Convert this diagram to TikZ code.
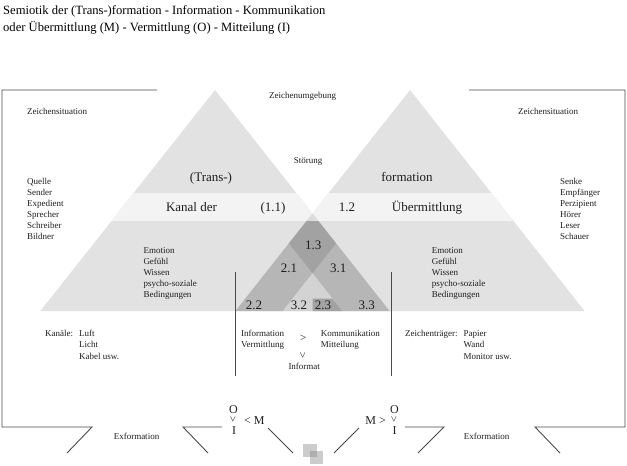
\documentclass[tikz,border=0pt]{standalone}
\usepackage{fontspec}
\setmainfont{Liberation Serif}
\definecolor{tri}{HTML}{E2E2E2}
\definecolor{bandc}{HTML}{F3F3F3}
\definecolor{tipc}{HTML}{DCDCDC}
\definecolor{darkc}{HTML}{A2A2A2}
\definecolor{midc}{HTML}{B6B6B6}
\definecolor{litec}{HTML}{D3D3D3}
\definecolor{lnc}{HTML}{4A4A4A}
\definecolor{txc}{HTML}{1E1E1E}
\tikzset{
  smalltxt/.style={font=\fontsize{9}{11}\selectfont, inner sep=0pt, text=txc},
  bigtxt/.style={font=\fontsize{13}{15}\selectfont, inner sep=0pt, text=txc},
  symtxt/.style={font=\fontsize{12}{14}\selectfont, inner sep=0pt, text=txc},
  reltxt/.style={font=\fontsize{11}{13}\selectfont, inner sep=0pt, text=txc},
  titletxt/.style={font=\fontsize{12.6}{15}\selectfont, inner sep=0pt, text=black},
  frameline/.style={draw=lnc, line width=0.9pt},
}
\begin{document}
\begin{tikzpicture}[x=1pt,y=-1pt]
\useasboundingbox (0,0) rectangle (627,466);
% triangle corners
\coordinate (LA) at (215,90);
\coordinate (LL) at (40.4,311);
\coordinate (LR) at (389.6,311);
\coordinate (RA) at (410,90);
\coordinate (RL) at (235.4,311);
\coordinate (RR) at (584.6,311);
% overlap partition
\coordinate (A) at (312.5,213.4);
\coordinate (L) at (288.8,243.4);
\coordinate (R) at (336.2,243.4);
\coordinate (D) at (312.5,273.4);
\coordinate (F) at (282.8,311);
\coordinate (E) at (342.2,311);
\coordinate (G1) at (312.5,298.7);
\coordinate (G2) at (332.5,298.7);
\coordinate (G3) at (312.5,311);
% fills
\fill[tri] (LA)--(LL)--(LR)--cycle;
\fill[tri] (RA)--(RL)--(RR)--cycle;
\fill[midc] (L)--(RL)--(F)--(D)--cycle;
\fill[midc] (R)--(D)--(E)--(LR)--cycle;
\fill[litec] (D)--(F)--(E)--cycle;
\fill[darkc] (A)--(L)--(D)--(R)--cycle;
\fill[darkc] (G1)--(G2)--(E)--(G3)--cycle;
\begin{scope}
  \clip (0,193.3) rectangle (627,220);
  \fill[bandc] (LA)--(LL)--(LR)--cycle (RA)--(RL)--(RR)--cycle;
  \fill[tipc] (A)--(L)--(D)--(R)--cycle;
\end{scope}
% frame
\coordinate (f1) at (157,90);
\coordinate (f2) at (2,90);
\coordinate (f3) at (2,427);
\coordinate (f4) at (92,427);
\coordinate (f5) at (67,453);
\coordinate (f6) at (183,427);
\coordinate (f7) at (208,453);
\coordinate (f8) at (222,427);
\coordinate (f9) at (268,428);
\coordinate (f10) at (293,453);
\coordinate (g9) at (359,428);
\coordinate (g10) at (334,453);
\coordinate (g8) at (405,427);
\coordinate (g6) at (444,427);
\coordinate (g7) at (418,453);
\coordinate (g4) at (535,427);
\coordinate (g5) at (560,453);
\coordinate (g3) at (625,427);
\coordinate (g2) at (625,90);
\coordinate (g1) at (469,90);
\draw[frameline] (f1)--(f2)--(f3)--(f4)--(f5);
\draw[frameline] (f7)--(f6)--(f8);
\draw[frameline] (f9)--(f10);
\draw[frameline] (g9)--(g10);
\draw[frameline] (g8)--(g6)--(g7);
\draw[frameline] (g5)--(g4)--(g3)--(g2)--(g1);
% vertical lines
\coordinate (v1t) at (235,272);
\coordinate (v1b) at (235,376);
\coordinate (v2t) at (391,272);
\coordinate (v2b) at (391,376);
\draw[frameline] (v1t)--(v1b);
\draw[frameline] (v2t)--(v2b);
% squares
\fill[gray, opacity=0.4] (303.3,444) rectangle (316.7,457.3);
\fill[gray, opacity=0.4] (310,450.7) rectangle (323.3,464);
% title
\node[titletxt, anchor=base west] (t1) at (3,14) {Semiotik der (Trans-)formation - Information - Kommunikation};
\node[titletxt, anchor=base west] (t2) at (3,31.7) {oder Übermittlung (M) - Vermittlung (O) - Mitteilung (I)};
% top labels
\node[smalltxt, anchor=base] (umg) at (302.5,98) {Zeichenumgebung};
\node[smalltxt, anchor=base west] (zsl) at (27,114) {Zeichensituation};
\node[smalltxt, anchor=base west] (zsr) at (518,114) {Zeichensituation};
\node[smalltxt, anchor=base] (stoer) at (308,163) {Störung};
\node[bigtxt, anchor=base] (trans) at (211,181.5) {(Trans-)};
\node[bigtxt, anchor=base] (form) at (407,181.5) {formation};
\node[bigtxt, anchor=base] (kanal) at (191.5,211) {Kanal der};
\node[bigtxt, anchor=base] (k11) at (273,211) {(1.1)};
\node[bigtxt, anchor=base] (k12) at (347,211) {1.2};
\node[bigtxt, anchor=base] (ueber) at (427,211) {Übermittlung};
% lists
\foreach [count=\i] \t in {Quelle,Sender,Expedient,Sprecher,Schreiber,Bildner}
  \node[smalltxt, anchor=base west] (ql\i) at (27,{184.5+11*(\i-1)}) {\t};
\foreach [count=\i] \t in {Senke,Empfänger,Perzipient,Hörer,Leser,Schauer}
  \node[smalltxt, anchor=base west] (qr\i) at (560,{184.5+11*(\i-1)}) {\t};
\foreach [count=\i] \t in {Emotion,Gefühl,Wissen,psycho-soziale,Bedingungen}
  \node[smalltxt, anchor=base west] (el\i) at (143.3,{253+11*(\i-1)}) {\t};
\foreach [count=\i] \t in {Emotion,Gefühl,Wissen,psycho-soziale,Bedingungen}
  \node[smalltxt, anchor=base west] (er\i) at (431.7,{253+11*(\i-1)}) {\t};
% numbers
\node[bigtxt] (n13) at (313.3,245) {1.3};
\node[bigtxt] (n21) at (289,268) {2.1};
\node[bigtxt] (n31) at (338.3,268) {3.1};
\node[bigtxt] (n22) at (254,305.3) {2.2};
\node[bigtxt] (n32) at (299,305.3) {3.2};
\node[bigtxt] (n23) at (323,305.3) {2.3};
\node[bigtxt] (n33) at (366.7,305.3) {3.3};
% bottom texts
\node[smalltxt, anchor=base west] (kan) at (45,336.5) {Kanäle:};
\foreach [count=\i] \t in {Luft,Licht,Kabel usw.}
  \node[smalltxt, anchor=base west] (kl\i) at (79,{336.5+11.3*(\i-1)}) {\t};
\node[smalltxt, anchor=base west] (zt) at (405,336.5) {Zeichenträger:};
\foreach [count=\i] \t in {Papier,Wand,Monitor usw.}
  \node[smalltxt, anchor=base west] (zl\i) at (463.5,{336.5+11.3*(\i-1)}) {\t};
\node[smalltxt, anchor=base west] (inf) at (241,336.5) {Information};
\node[smalltxt, anchor=base west] (verm) at (241,347.8) {Vermittlung};
\node[smalltxt, anchor=base west] (komm) at (320.7,336.5) {Kommunikation};
\node[smalltxt, anchor=base west] (mitt) at (320.7,347.8) {Mitteilung};
\node[reltxt] (gt) at (303.3,338) {>};
\node[reltxt, rotate=90] (vee0) at (303.3,355) {<};
\node[smalltxt, anchor=base west] (infm) at (288.3,369) {Informat};
\node[smalltxt, anchor=base] (exl) at (136.5,439) {Exformation};
\node[smalltxt, anchor=base] (exr) at (486.7,439) {Exformation};
% O I M groups
\node[symtxt] (oL) at (233.5,410) {O};
\node[reltxt, rotate=90] (vL) at (233.5,419.5) {<};
\node[symtxt] (iL) at (234,430.5) {I};
\node[symtxt, anchor=west] (mL) at (244,421) {< M};
\node[symtxt, anchor=east] (mR) at (386,421) {M >};
\node[symtxt] (oR) at (394.5,410) {O};
\node[reltxt, rotate=90] (vR) at (394.5,419.5) {<};
\node[symtxt] (iR) at (394.5,430.5) {I};
\end{tikzpicture}
\end{document}
